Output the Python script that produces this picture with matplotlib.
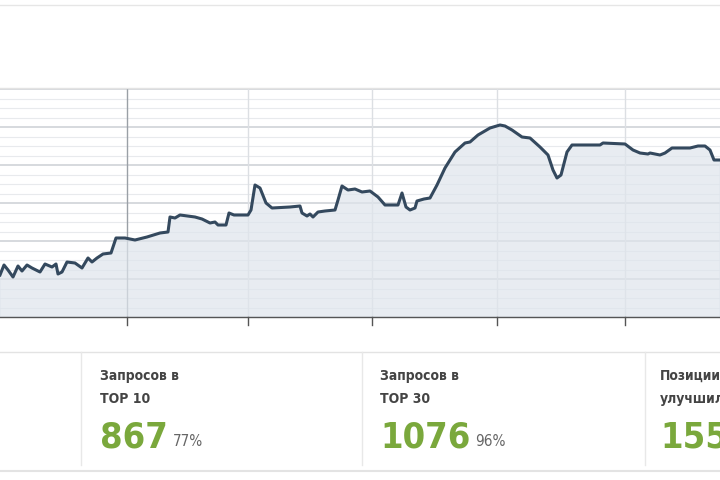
import numpy as np
import matplotlib.pyplot as plt

# traced line (x in screen px, value in grid units, majors every 1.0)
xs = [0, 4, 8, 13, 18, 22, 27, 32, 40, 45, 52, 56, 58, 62, 67, 75, 82, 88, 92, 97,
      103, 111, 116, 125, 135, 147, 160, 168, 170, 175, 180, 195, 202, 210, 215, 218,
      226, 229, 234, 248, 251, 255, 260, 266, 272, 290, 300, 302, 307, 310, 313, 318,
      325, 335, 338, 342, 348, 355, 362, 370, 378, 385, 393, 398, 402, 406, 410, 415,
      417, 424, 430, 437, 445, 455, 465, 470, 478, 490, 500, 505, 512, 522, 530, 540,
      548, 553, 557, 561, 567, 572, 580, 600, 603, 625, 633, 640, 648, 650, 660, 665,
      672, 690, 698, 705, 710, 714, 720]
ys_px = [275, 265, 270, 277, 266, 271, 265, 268, 272, 264, 267, 264, 274, 272, 262, 263,
         268, 258, 262, 258, 254, 253, 238, 238, 240, 237, 233, 232, 217, 218, 215, 217,
         219, 223, 222, 225, 225, 213, 215, 215, 210, 185, 188, 203, 208, 207, 206, 213,
         216, 214, 217, 212, 211, 210, 200, 186, 190, 189, 192, 191, 197, 205, 205, 205,
         193, 207, 210, 208, 201, 199, 198, 185, 168, 152, 143, 142, 135, 128, 125, 126,
         130, 137, 138, 147, 155, 170, 178, 175, 152, 145, 145, 145, 143, 144, 150, 153,
         154, 153, 155, 153, 148, 148, 146, 146, 150, 160, 160]
values = [(317 - y) / 38.0 for y in ys_px]

vlines = [127, 248, 372, 497, 625]

labels1 = ["Запросов в", "Запросов в", "Позиции"]
labels2 = ["TOP 10", "TOP 30", "улучшились"]
numbers = ["867", "1076", "155"]
percents = ["77%", "96%", ""]
col_x = [100, 380, 660]
seps = [81, 362, 645]

fig = plt.figure(figsize=(7.2, 4.8), dpi=100)
ax = fig.add_axes([0, (480 - 317) / 480, 1, (317 - 88) / 480])
ax.set_xlim(0, 720)
ax.set_ylim(0, 229 / 38.0)
for v in np.arange(0.25, 6.1, 0.25):
    major = abs(v - round(v)) < 1e-6
    ax.axhline(v, color='#cfd3d8' if major else '#e8eaed', lw=1.2 if major else 0.8, zorder=1)
for i, v in enumerate(vlines):
    ax.axvline(v, color='#9aa0a6' if i == 0 else '#dcdfe3', lw=1, zorder=1)
ax.fill_between(xs, values, 0, color='#dfe5ec', alpha=0.7, zorder=2)
ax.plot(xs, values, color='#34495e', lw=2.2, zorder=3)
ax.set_axis_off()

ov = fig.add_axes([0, 0, 1, 1], facecolor='none')
ov.set_xlim(0, 720)
ov.set_ylim(480, 0)
ov.set_axis_off()
ov.plot([0, 720], [5, 5], color='#e6e6e6', lw=1)
ov.plot([0, 720], [88, 88], color='#e3e3e3', lw=1)
ov.plot([0, 720], [317, 317], color='#555555', lw=1)
for v in vlines:
    ov.plot([v, v], [317, 325], color='#555555', lw=1)
ov.plot([0, 720], [352, 352], color='#e3e3e3', lw=1)
ov.plot([0, 720], [471, 471], color='#e3e3e3', lw=1.5)
for s in seps:
    ov.plot([s, s], [352, 465], color='#e8e8e8', lw=1)

fam = ['DejaVu Sans']
for x, a, b, n, p in zip(col_x, labels1, labels2, numbers, percents):
    ov.text(x, 376, a, fontsize=10, color='#444444', weight='bold', family=fam,
            stretch='condensed', va='center')
    ov.text(x, 399, b, fontsize=10, color='#444444', weight='bold', family=fam,
            stretch='condensed', va='center')
    t = ov.text(x, 437, n, fontsize=26, color='#7aa83c', weight='bold', family=fam,
                stretch='condensed', va='center')
    if p:
        fig.canvas.draw()
        bb = t.get_window_extent()
        ov.text(bb.x1 + 5, 442, p, fontsize=11, color='#666666', family=fam,
                stretch='condensed', va='center')

fig.savefig('out.png', dpi=100)
